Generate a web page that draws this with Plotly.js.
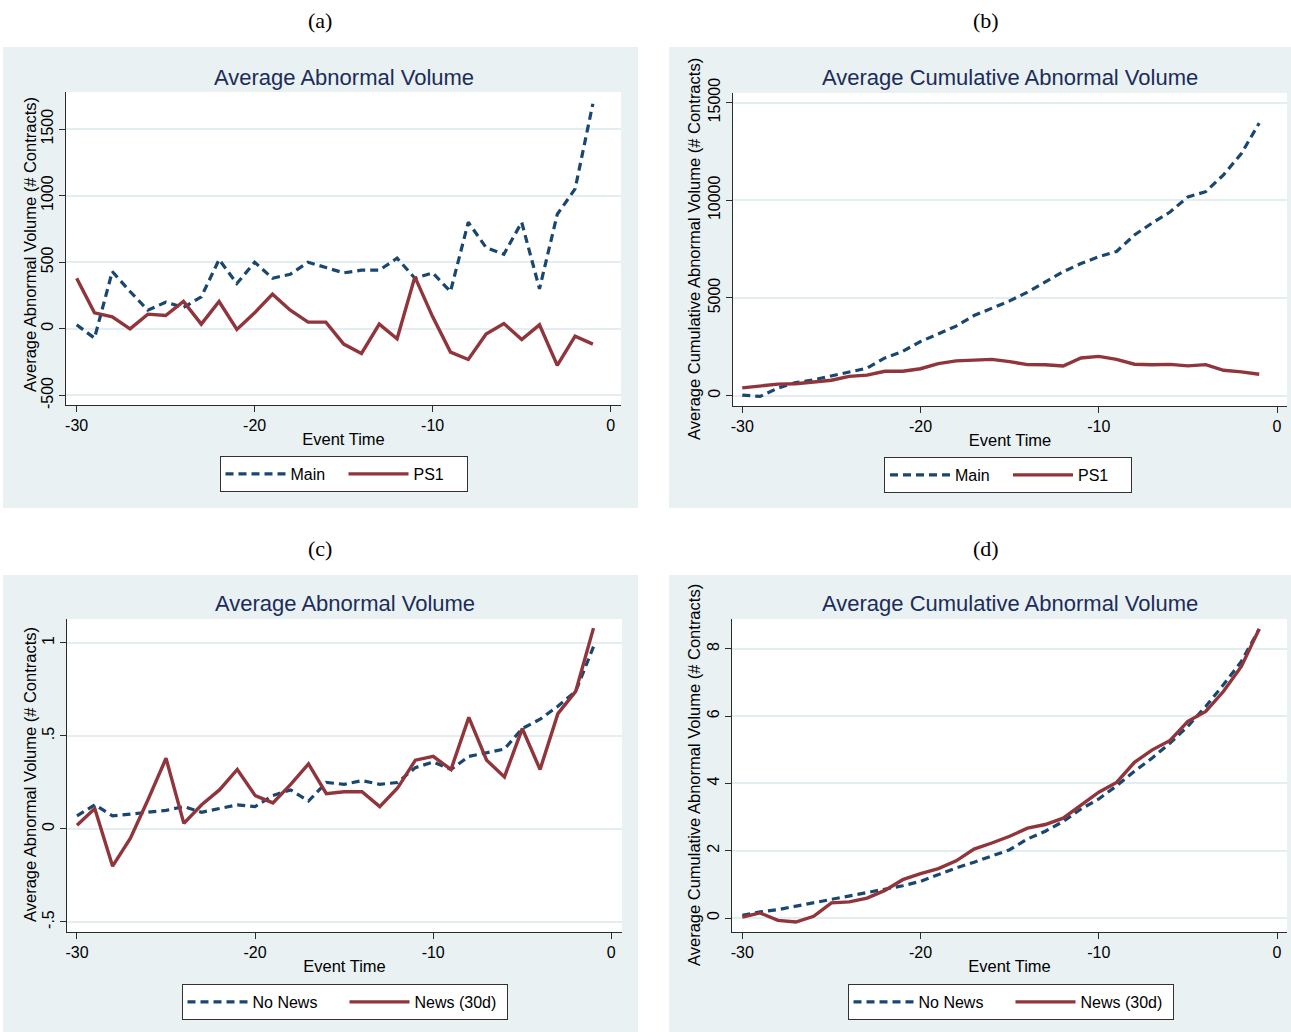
<!DOCTYPE html>
<html>
<head>
<meta charset="utf-8">
<script src="https://cdn.plot.ly/plotly-3.0.1.min.js"></script>
<style>
  html, body { margin: 0; padding: 0; background: #ffffff; }
  #chart { width: 1291px; height: 1032px; }
</style>
</head>
<body>
<div id="chart"></div>
<script>
// Event window: days before the event
const eventTime = [-30, -29, -28, -27, -26, -25, -24, -23, -22, -21, -20, -19, -18, -17, -16,
                   -15, -14, -13, -12, -11, -10, -9, -8, -7, -6, -5, -4, -3, -2, -1];

// (a) Average abnormal volume, # contracts
const mainAbnVol = [30, -70, 430, 280, 140, 200, 160, 240, 520, 340, 500, 380, 410, 500, 460,
                    420, 440, 440, 530, 380, 420, 280, 800, 610, 560, 800, 300, 860, 1050, 1690];
const ps1AbnVol = [380, 120, 90, 0, 110, 100, 205, 35, 205, -5, 120, 260, 140, 50, 50,
                   -115, -185, 35, -75, 390, 90, -175, -230, -40, 40, -80, 30, -275, -55, -115];

// (b) Average cumulative abnormal volume, # contracts
const mainCumVol = [30, -40, 390, 670, 810, 1010, 1170, 1410, 1930, 2270, 2770, 3150, 3560, 4100, 4480,
                    4850, 5300, 5830, 6340, 6760, 7110, 7380, 8220, 8840, 9400, 10170, 10440, 11300, 12390, 13950];
const ps1CumVol = [400, 500, 590, 610, 690, 790, 990, 1050, 1250, 1250, 1380, 1640, 1780, 1830, 1860,
                   1745, 1590, 1580, 1520, 1930, 2010, 1860, 1610, 1580, 1600, 1525, 1590, 1300, 1220, 1095];

// (c) Average abnormal volume, news split
const noNewsAbnVol = [0.07, 0.13, 0.07, 0.08, 0.09, 0.10, 0.12, 0.09, 0.11, 0.13, 0.12, 0.18, 0.21, 0.15, 0.25,
                      0.24, 0.26, 0.24, 0.25, 0.33, 0.36, 0.32, 0.39, 0.41, 0.43, 0.54, 0.59, 0.66, 0.74, 0.98];
const newsAbnVol = [0.02, 0.11, -0.20, -0.05, 0.16, 0.38, 0.03, 0.13, 0.21, 0.32, 0.18, 0.14, 0.24, 0.35, 0.19,
                    0.20, 0.20, 0.12, 0.22, 0.37, 0.39, 0.32, 0.60, 0.37, 0.28, 0.54, 0.32, 0.62, 0.74, 1.08];

// (d) Average cumulative abnormal volume, news split
const noNewsCumVol = [0.08, 0.18, 0.25, 0.35, 0.45, 0.55, 0.64, 0.74, 0.84, 0.96, 1.09, 1.29, 1.49, 1.66, 1.85,
                      2.03, 2.35, 2.58, 2.87, 3.24, 3.54, 3.93, 4.36, 4.76, 5.20, 5.70, 6.29, 6.94, 7.63, 8.59];
const newsCumVol = [0.03, 0.15, -0.07, -0.12, 0.05, 0.45, 0.48, 0.59, 0.82, 1.14, 1.32, 1.47, 1.70, 2.05, 2.23,
                    2.43, 2.67, 2.78, 2.97, 3.34, 3.74, 4.03, 4.63, 5.00, 5.28, 5.85, 6.14, 6.74, 7.48, 8.59];

// Tick values and labels
const xTickVals = [-30, -20, -10, 0];
const xTickText = ['-30', '-20', '-10', '0'];
const yTicksA = [-500, 0, 500, 1000, 1500];
const yTickTextA = ['-500', '0', '500', '1000', '1500'];
const yTicksB = [0, 5000, 10000, 15000];
const yTickTextB = ['0', '5000', '10000', '15000'];
const yTicksC = [-0.5, 0, 0.5, 1];
const yTickTextC = ['-.5', '0', '.5', '1'];
const yTicksD = [0, 2, 4, 6, 8];
const yTickTextD = ['0', '2', '4', '6', '8'];

const panelTitles = ['Average Abnormal Volume', 'Average Cumulative Abnormal Volume',
                     'Average Abnormal Volume', 'Average Cumulative Abnormal Volume'];
const panelLetters = ['(a)', '(b)', '(c)', '(d)'];
const yTitles = ['Average Abnormal Volume (# Contracts)', 'Average Cumulative Abnormal Volume (# Contracts)',
                 'Average Abnormal Volume (# Contracts)', 'Average Cumulative Abnormal Volume (# Contracts)'];

// ---- styling ----
const W = 1291, H = 1032;
const NAVY = '#1a476f';
const CRANBERRY = '#90353b';
const TITLE_COLOR = '#1c2c5a';
const PANEL_BG = '#e9f1f3';
const GRID = '#e4edf0';
const AXIS = '#2b2b2b';
const SANS = 'Liberation Sans, Arial, sans-serif';

const px = v => v / W;
const py = v => 1 - v / H;

// plot areas in pixels: [left, right, top, bottom]
const areas = [
  [66, 621, 92, 405],
  [733, 1287, 93, 406],
  [67, 622, 619, 932],
  [732, 1287, 619, 932]
];
// panel backgrounds in pixels: [left, right, top, bottom]
const panels = [
  [3, 638, 47, 508],
  [669, 1291, 47, 508],
  [3, 638, 575, 1032],
  [669, 1291, 575, 1032]
];
// vertical axis title anchors in pixels: [center x, center y]
const yTitlePos = [[30, 245], [694, 249], [30, 775], [694, 775]];
const xRanges = [[-30.6, 0.58], [-30.52, 0.56], [-30.56, 0.6], [-30.58, 0.56]];
const yRanges = [[-572, 1778], [-528, 15489], [-0.554, 1.129], [-0.416, 8.89]];
const yTickSets = [[yTicksA, yTickTextA], [yTicksB, yTickTextB], [yTicksC, yTickTextC], [yTicksD, yTickTextD]];
const legendTops = [[343.5, 456], [1008, 457], [344.5, 984], [1010.5, 984]];
const legendEntryWidths = [48, 48, 87, 87];

const seriesSets = [
  [['Main', mainAbnVol], ['PS1', ps1AbnVol]],
  [['Main', mainCumVol], ['PS1', ps1CumVol]],
  [['No News', noNewsAbnVol], ['News (30d)', newsAbnVol]],
  [['No News', noNewsCumVol], ['News (30d)', newsCumVol]]
];

const traces = [];
const layout = {
  width: W, height: H,
  margin: {l: 0, r: 0, t: 0, b: 0},
  paper_bgcolor: '#ffffff',
  plot_bgcolor: 'rgba(0,0,0,0)',
  font: {family: SANS, color: '#000000', size: 16},
  showlegend: true,
  shapes: [],
  annotations: []
};

for (let i = 0; i < 4; i++) {
  const sfx = i === 0 ? '' : String(i + 1);
  const xa = 'x' + sfx, ya = 'y' + sfx;
  const legendId = 'legend' + sfx;
  const [l, r, t, b] = areas[i];

  seriesSets[i].forEach(([name, vals], k) => {
    traces.push({
      type: 'scatter', mode: 'lines',
      x: eventTime, y: vals, name: name,
      xaxis: xa, yaxis: ya, legend: legendId,
      line: k === 0
        ? {color: NAVY, width: 3.2, dash: '8px,5px'}
        : {color: CRANBERRY, width: 3.4},
      hoverinfo: 'x+y+name'
    });
  });

  layout['xaxis' + sfx] = {
    domain: [px(l), px(r)], anchor: ya,
    range: xRanges[i],
    tickvals: xTickVals, ticktext: xTickText,
    ticks: 'outside', ticklen: 6, tickwidth: 1, tickcolor: AXIS,
    showline: true, linecolor: AXIS, linewidth: 1,
    showgrid: false, zeroline: false,
    tickfont: {family: SANS, size: 16, color: '#000'},
    title: {text: 'Event Time', font: {family: SANS, size: 16.5, color: '#000'}, standoff: 0}
  };
  layout['yaxis' + sfx] = {
    domain: [py(b), py(t)], anchor: xa,
    range: yRanges[i],
    tickvals: yTickSets[i][0], ticktext: yTickSets[i][1],
    tickangle: -90,
    ticks: 'outside', ticklen: 6, tickwidth: 1, tickcolor: AXIS,
    showline: true, linecolor: AXIS, linewidth: 1,
    showgrid: true, gridcolor: GRID, gridwidth: 1.5, zeroline: false,
    tickfont: {family: SANS, size: 16, color: '#000'}
  };

  // vertical axis title, placed beside the rotated tick labels
  layout.annotations.push({
    text: yTitles[i], xref: 'paper', yref: 'paper',
    x: px(yTitlePos[i][0]), y: py(yTitlePos[i][1]), xanchor: 'center', yanchor: 'middle',
    textangle: -90, showarrow: false,
    font: {family: SANS, size: 16.5, color: '#000'}
  });

  const [lx, ly] = legendTops[i];
  layout[legendId] = {
    orientation: 'h',
    x: px(lx), y: py(ly), xanchor: 'center', yanchor: 'top',
    bgcolor: '#ffffff', bordercolor: '#333333', borderwidth: 1,
    font: {family: SANS, size: 16, color: '#000'},
    itemwidth: 60,
    entrywidth: legendEntryWidths[i],
    tracegroupgap: 0
  };

  const [pl, pr, pt, pb] = panels[i];
  layout.shapes.push({
    type: 'rect', xref: 'paper', yref: 'paper', layer: 'below',
    x0: px(pl), x1: px(pr), y0: py(pb), y1: py(pt),
    fillcolor: PANEL_BG, line: {width: 0}
  });
  layout.shapes.push({
    type: 'rect', xref: xa + ' domain', yref: ya + ' domain', layer: 'below',
    x0: 0, x1: 1, y0: 0, y1: 1,
    fillcolor: '#ffffff', line: {width: 0}
  });

  layout.annotations.push({
    text: panelTitles[i], xref: 'paper', yref: 'paper',
    x: px((l + r) / 2), y: py(i < 2 ? 77 : 603), xanchor: 'center', yanchor: 'middle',
    showarrow: false, font: {family: SANS, size: 22, color: TITLE_COLOR}
  });
  layout.annotations.push({
    text: panelLetters[i], xref: 'paper', yref: 'paper',
    x: px(i % 2 === 0 ? 320 : 986), y: py(i < 2 ? 20 : 548), xanchor: 'center', yanchor: 'middle',
    showarrow: false, font: {family: 'Liberation Serif, DejaVu Serif, serif', size: 22, color: '#000'}
  });
}

Plotly.newPlot('chart', traces, layout, {displayModeBar: false, responsive: false});
</script>
</body>
</html>
